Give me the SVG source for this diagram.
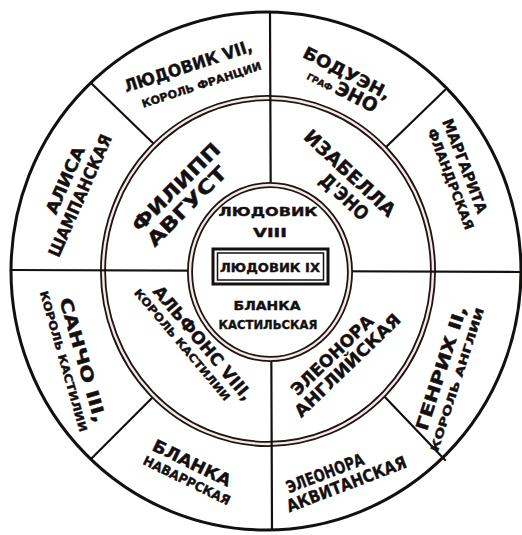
<svg xmlns="http://www.w3.org/2000/svg" width="522" height="535" viewBox="0 0 522 535">
<style>
text{font-family:"DejaVu Sans","Liberation Sans",sans-serif;font-weight:bold;text-transform:uppercase;fill:#141010;stroke:#141010;stroke-width:0.4;text-anchor:middle}
.big{font-size:19px}
.nm{font-size:17px}
.sub{font-size:11px}
.in{font-size:13px}
.ln{stroke:#141010;stroke-width:2.2;fill:none;stroke-linecap:round}
.dbl{fill:none;stroke:#1e1414;stroke-width:6}
.gap{fill:none;stroke:#f4e8e8;stroke-width:2.4}
</style>
<rect width="522" height="535" fill="#ffffff"/>
<g id="rings">
<ellipse cx="266" cy="271" rx="255" ry="259" fill="none" stroke="#141010" stroke-width="3"/>
</g>
<g id="connectors">
<line class="ln" x1="92" y1="84" x2="155" y2="145"/>
<line class="ln" x1="445" y1="90" x2="384" y2="149"/>
<line class="ln" x1="92" y1="458" x2="154" y2="396"/>
<line class="ln" x1="445" y1="460" x2="383" y2="395"/>
<ellipse class="dbl" cx="268" cy="271" rx="165" ry="173"/>
<ellipse class="gap" cx="268" cy="271" rx="165" ry="173"/>
<line class="ln" x1="11" y1="270" x2="268" y2="271"/>
<line class="ln" x1="268" y1="271" x2="520" y2="272"/>
<line class="ln" x1="270" y1="12" x2="271" y2="272"/>
<line class="ln" x1="271" y1="272" x2="272" y2="530"/>
</g>
<g id="center">
<ellipse cx="270" cy="272" rx="80" ry="87" fill="#ffffff" stroke="#1e1414" stroke-width="6"/>
<ellipse class="gap" cx="270" cy="272" rx="80" ry="87"/>
<text class="in" x="268" y="211" dy=".36em" textLength="99" lengthAdjust="spacingAndGlyphs">Людовик</text>
<text class="in" x="270" y="232" dy=".36em" textLength="34" lengthAdjust="spacingAndGlyphs">VIII</text>
<rect x="213" y="249" width="115" height="35" fill="#ffffff" stroke="#141010" stroke-width="3"/>
<rect x="217.5" y="253" width="106" height="27" fill="none" stroke="#141010" stroke-width="1.5"/>
<text class="in" x="270" y="267" dy=".36em" textLength="100" lengthAdjust="spacingAndGlyphs">Людовик IX</text>
<text class="in" x="267" y="305" dy=".36em" textLength="67" lengthAdjust="spacingAndGlyphs">Бланка</text>
<text class="in" x="268" y="324" dy=".36em" textLength="99" lengthAdjust="spacingAndGlyphs">Кастильская</text>
</g>
<g id="filipp" transform="translate(176,187) rotate(-45)">
<text class="big" dy=".36em" textLength="116" lengthAdjust="spacingAndGlyphs">Филипп</text>
<text class="big" x="-6" y="21" dy=".36em" textLength="104" lengthAdjust="spacingAndGlyphs">Август</text>
</g>
<g id="izabella" transform="translate(350,173) rotate(43)">
<text class="big" dy=".36em" textLength="117" lengthAdjust="spacingAndGlyphs">Изабелла</text>
<text class="big" x="12" y="21" dy=".36em" textLength="59" lengthAdjust="spacingAndGlyphs">д'Эно</text>
</g>
<g id="alfons" transform="translate(203,343) rotate(50)">
<text class="nm" dy=".36em" textLength="144" lengthAdjust="spacingAndGlyphs">Альфонс VIII,</text>
<text class="sub" x="-12" y="17" dy=".36em" textLength="142" lengthAdjust="spacingAndGlyphs">король Кастилии</text>
</g>
<g id="eleonora-angl" transform="translate(332,355) rotate(-44)">
<text class="nm" dy=".36em" textLength="107" lengthAdjust="spacingAndGlyphs">Элеонора</text>
<text class="nm" x="4" y="18" dy=".36em" textLength="140" lengthAdjust="spacingAndGlyphs">Английская</text>
</g>
<g id="ludovik7" transform="translate(188,66) rotate(-18)">
<text class="nm" dy=".36em" textLength="134" lengthAdjust="spacingAndGlyphs">Людовик VII,</text>
<text class="sub" x="7" y="22" dy=".36em" textLength="125" lengthAdjust="spacingAndGlyphs">король Франции</text>
</g>
<g id="boduen" transform="translate(347,73) rotate(27)">
<text class="nm" dy=".36em" textLength="96" lengthAdjust="spacingAndGlyphs">Бодуэн,</text>
<text x="4" y="18" dy=".36em" textLength="76" lengthAdjust="spacingAndGlyphs"><tspan style="font-size:9px">граф </tspan><tspan style="font-size:19px">Эно</tspan></text>
</g>
<g id="margarita" transform="translate(465,166) rotate(69)">
<text class="nm" style="font-size:15px" dy=".36em" textLength="100" lengthAdjust="spacingAndGlyphs">Маргарита</text>
<text class="sub" style="font-size:13px" x="7" y="18" dy=".36em" textLength="107" lengthAdjust="spacingAndGlyphs">Фландрская</text>
</g>
<g id="alisa" transform="translate(65,180) rotate(-66)">
<text class="nm" dy=".36em" textLength="72" lengthAdjust="spacingAndGlyphs">Алиса</text>
<text class="nm" x="-8" y="20" dy=".36em" textLength="132" lengthAdjust="spacingAndGlyphs">Шампанская</text>
</g>
<g id="sancho" transform="translate(83,360) rotate(74)">
<text class="nm" dy=".36em" textLength="129" lengthAdjust="spacingAndGlyphs">Санчо III,</text>
<text class="sub" x="-4" y="19" dy=".36em" textLength="146" lengthAdjust="spacingAndGlyphs">король Кастилии</text>
</g>
<g id="blanka-nav" transform="translate(192,463) rotate(26)">
<text class="nm" dy=".36em" textLength="85" lengthAdjust="spacingAndGlyphs">Бланка</text>
<text class="sub" style="font-size:13px" x="3" y="18" dy=".36em" textLength="95" lengthAdjust="spacingAndGlyphs">Наваррская</text>
</g>
<g id="eleonora-akv" transform="translate(325,473) rotate(-21)">
<text class="nm" dy=".36em" textLength="82" lengthAdjust="spacingAndGlyphs">Элеонора</text>
<text class="nm" x="16" y="18" dy=".36em" textLength="127" lengthAdjust="spacingAndGlyphs">Аквитанская</text>
</g>
<g id="genrih" transform="translate(441,368) rotate(-72)">
<text class="nm" dy=".36em" textLength="130" lengthAdjust="spacingAndGlyphs">Генрих II,</text>
<text class="sub" x="-6" y="19" dy=".36em" textLength="150" lengthAdjust="spacingAndGlyphs">король Англии</text>
</g>
</svg>
